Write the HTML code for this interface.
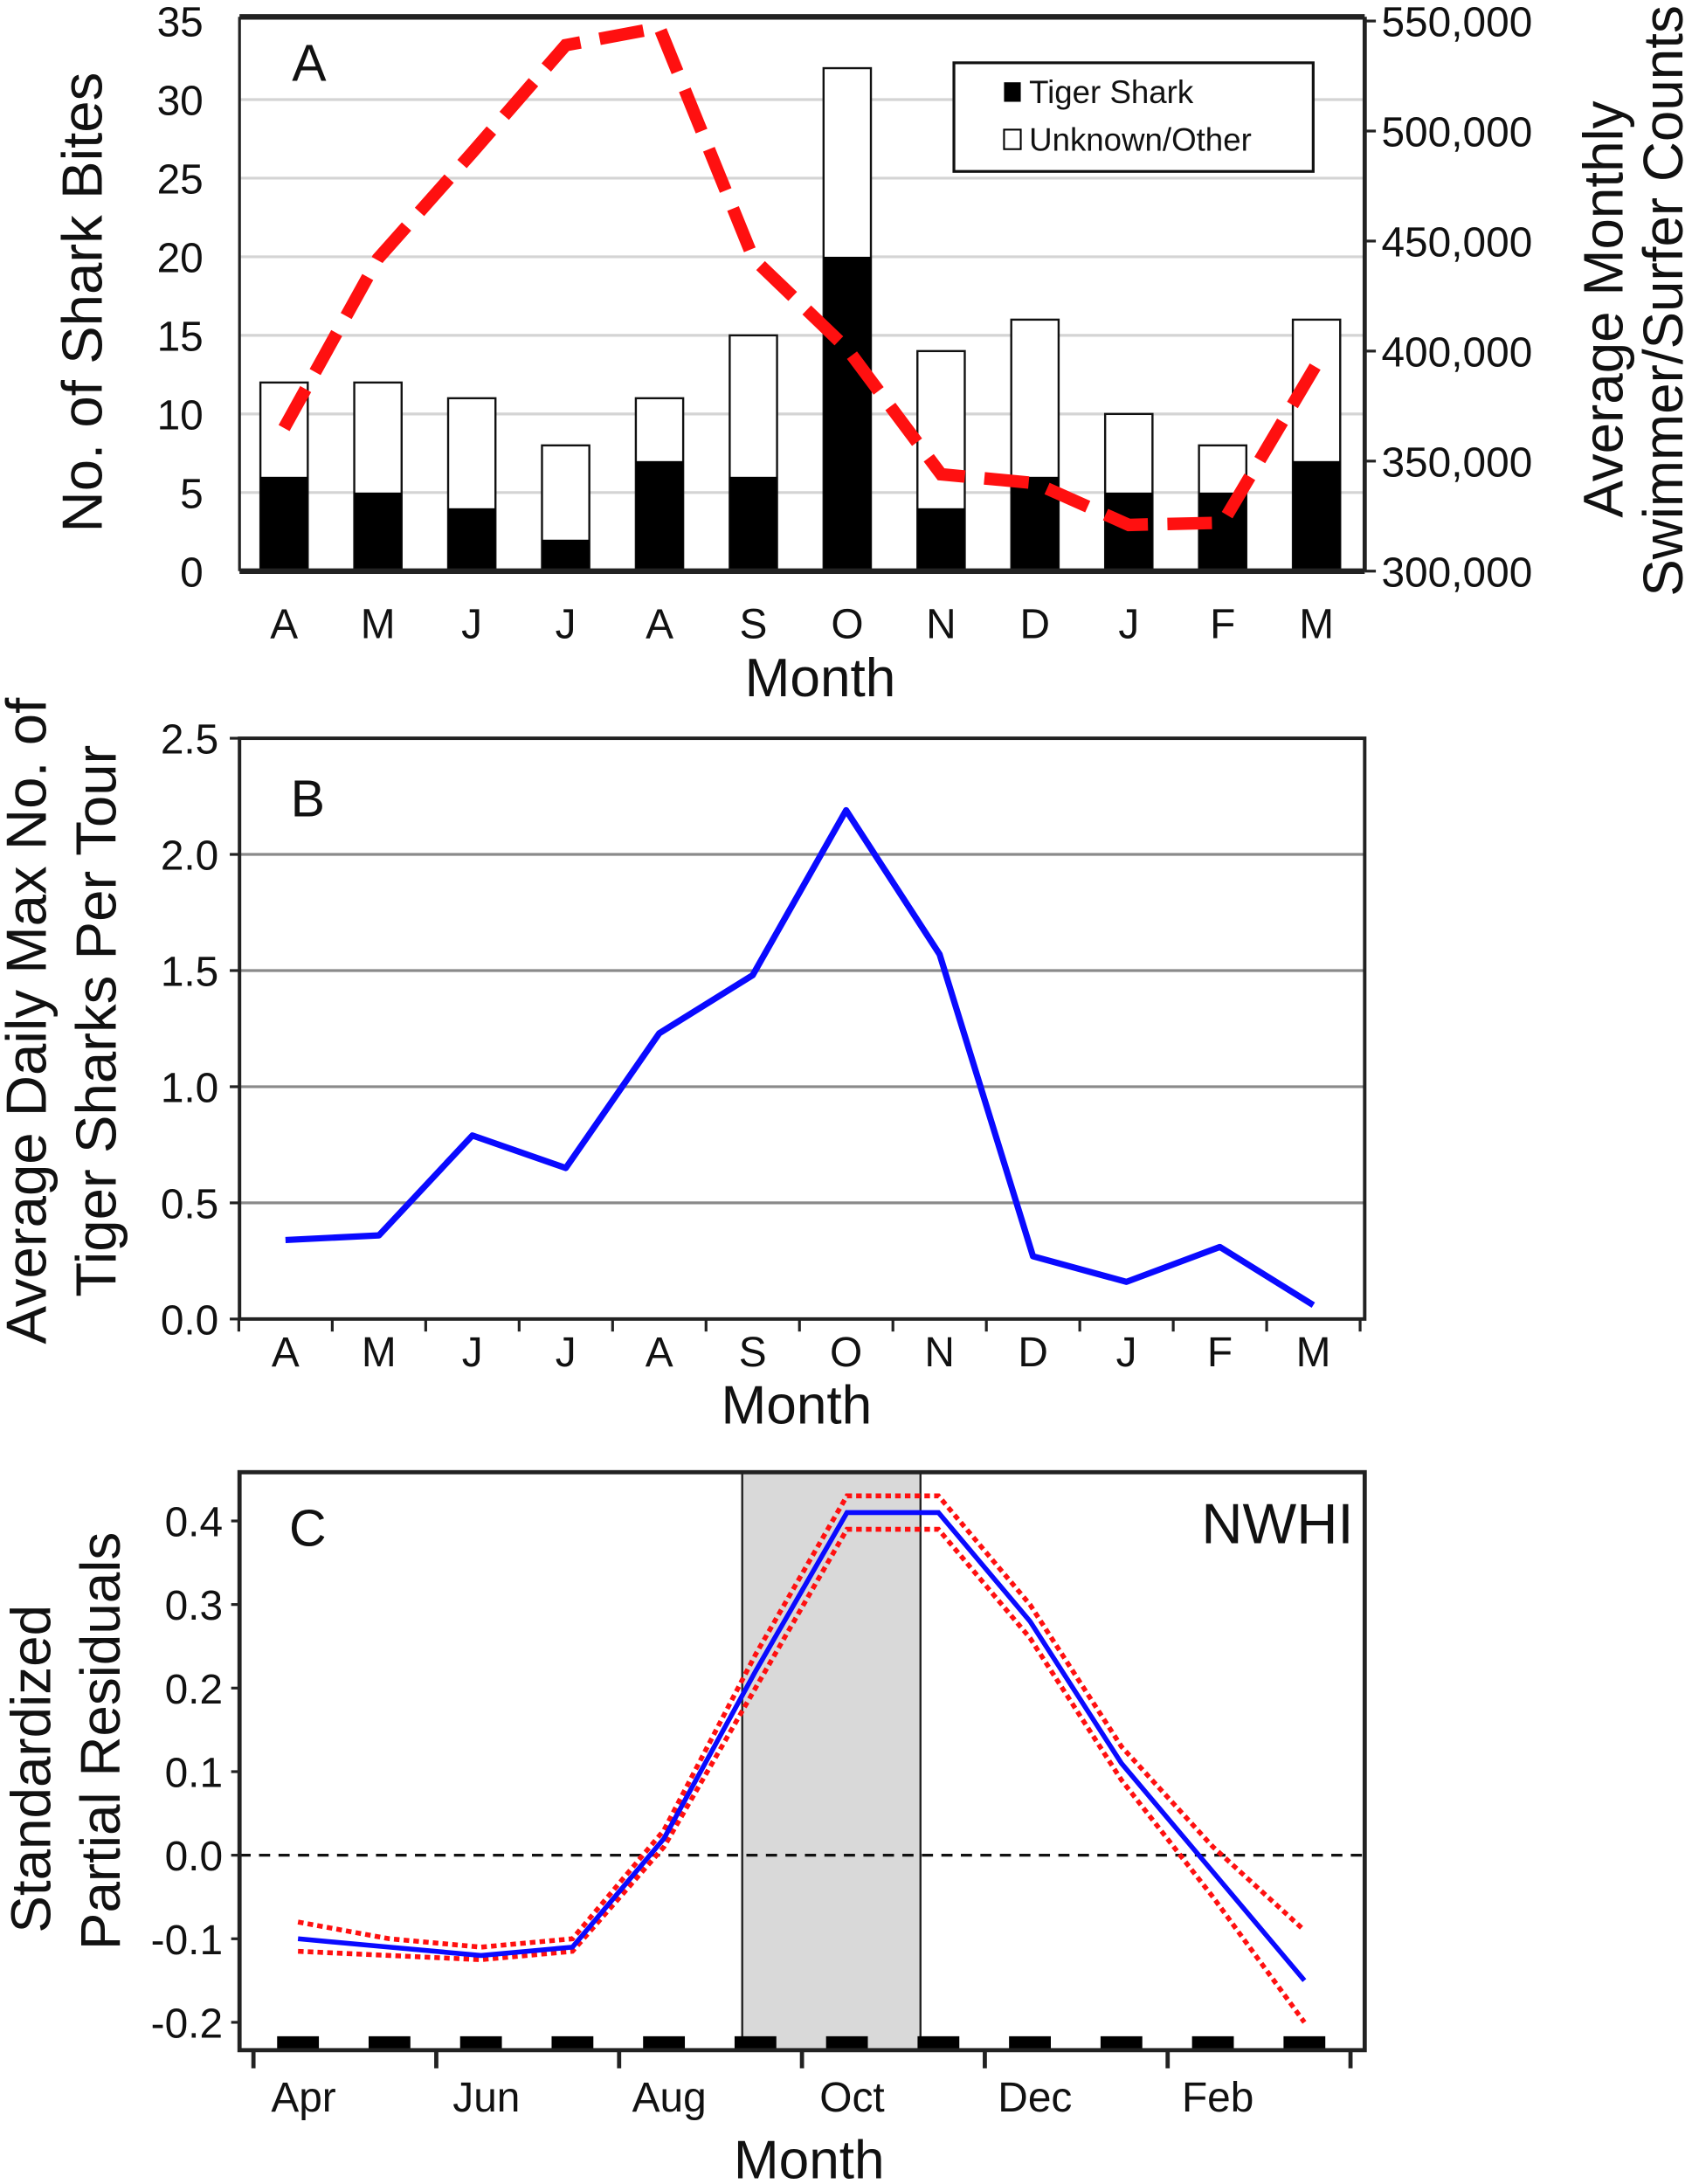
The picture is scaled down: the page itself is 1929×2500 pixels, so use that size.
<!DOCTYPE html>
<html><head><meta charset="utf-8"><style>
html,body{margin:0;padding:0;background:#fff}
svg{display:block}
text{font-family:"Liberation Sans",sans-serif;fill:#111}
</style></head><body>
<svg id="fig" width="1929" height="2500" viewBox="0 0 1210 1568" xmlns="http://www.w3.org/2000/svg">
<g id="pa"></g>
<g id="pb"></g>
<g id="pc"></g>
</svg>
<script>
// Panel A data
const monthsA = ["A","M","J","J","A","S","O","N","D","J","F","M"];
const tigerBites = [6,5,4,2,7,6,20,4,6,5,5,7];
const totalBites = [12,12,11,8,11,15,32,14,16,10,8,16];
const swimmerCounts = [365000,442000,490000,539000,547000,442000,401000,344000,340000,321000,322000,394000];
const leftTicksA = [0,5,10,15,20,25,30,35];
const rightTicksA = [300000,350000,400000,450000,500000,550000];
// Panel B data
const monthsB = ["A","M","J","J","A","S","O","N","D","J","F","M"];
const tigerPerTour = [0.34,0.36,0.79,0.65,1.23,1.48,2.19,1.57,0.27,0.16,0.31,0.06];
const ticksB = [0.0,0.5,1.0,1.5,2.0,2.5];
// Panel C data
const residFit = [-0.10,-0.11,-0.12,-0.11,0.02,0.22,0.41,0.41,0.28,0.11,-0.02,-0.15];
const residUpper = [-0.08,-0.10,-0.11,-0.10,0.03,0.24,0.43,0.43,0.30,0.13,0.01,-0.09];
const residLower = [-0.115,-0.12,-0.125,-0.115,0.01,0.20,0.39,0.39,0.26,0.09,-0.05,-0.20];
const ticksC = [-0.2,-0.1,0.0,0.1,0.2,0.3,0.4];
const monthLabelsC = ["Apr","Jun","Aug","Oct","Dec","Feb"];

const NS="http://www.w3.org/2000/svg";
function mk(parent,tag,attrs,txt){const e=document.createElementNS(NS,tag);for(const k in attrs)e.setAttribute(k,attrs[k]);if(txt!==undefined)e.textContent=txt;parent.appendChild(e);return e;}

// ---------- Panel A ----------
(function(){
const g=document.getElementById('pa');
const L=172,R=980,T=12,B=410;
const yA=v=>B-(v/35)*(B-15);
const yR=v=>B-((v-300000)/250000)*(B-15);
const xA=i=>204+i*67.4;
leftTicksA.forEach(v=>{
  if(v>0&&v<35){const l=mk(g,'line',{x1:L,x2:R,y1:yA(v),y2:yA(v),stroke:'#d4d4d4','stroke-width':2});
  
  }
  const t=mk(g,'text',{x:146,y:yA(v)+11,'text-anchor':'end','font-size':30},v);
  
  
});
rightTicksA.forEach(v=>{
  mk(g,'line',{x1:R,x2:R+8,y1:yR(v),y2:yR(v),stroke:'#222','stroke-width':2});
  const t=mk(g,'text',{x:992,y:yR(v)+11,'font-size':30},v.toLocaleString('en-US'));
  
  
});
tigerBites.forEach((v,i)=>{
  const w=34,x=xA(i)-w/2;
  const o=mk(g,'rect',{x:x,y:yA(totalBites[i]),width:w,height:yA(0)-yA(totalBites[i]),fill:'#fff',stroke:'#111','stroke-width':1.5});
  
  
  const b=mk(g,'rect',{x:x,y:yA(v),width:w,height:yA(0)-yA(v),fill:'#000'});
  
  
  const t=mk(g,'text',{x:xA(i),y:458,'text-anchor':'middle','font-size':30},monthsA[i]);
  
  
});
mk(g,'line',{x1:L,x2:R,y1:T,y2:T,stroke:'#222','stroke-width':4});
mk(g,'line',{x1:L,x2:R,y1:B,y2:B,stroke:'#222','stroke-width':4});
mk(g,'line',{x1:L,x2:L,y1:T,y2:B,stroke:'#222','stroke-width':2});
mk(g,'line',{x1:R,x2:R,y1:T,y2:B,stroke:'#222','stroke-width':3});
const pts=swimmerCounts.map((v,i)=>xA(i)+','+yR(v)).join(' ');
const pl=mk(g,'polyline',{points:pts,fill:'none',stroke:'#ff1010','stroke-width':9,'stroke-dasharray':'32,14'});


const lg=mk(g,'g',{});


mk(lg,'rect',{x:685,y:45,width:258,height:78,fill:'#fff',stroke:'#111','stroke-width':2});
mk(lg,'rect',{x:721,y:59,width:12,height:14,fill:'#000'});
mk(lg,'text',{x:739,y:74,'font-size':23},'Tiger Shark');
mk(lg,'rect',{x:721,y:93,width:12,height:14,fill:'#fff',stroke:'#000','stroke-width':1.3});
mk(lg,'text',{x:739,y:108,'font-size':23},'Unknown/Other');
const lab=mk(g,'text',{x:222,y:58,'text-anchor':'middle','font-size':37},'A');


const xt=mk(g,'text',{x:589,y:500,'text-anchor':'middle','font-size':39},'Month');


const yt=mk(g,'text',{transform:'translate(73,217) rotate(-90)','text-anchor':'middle','font-size':41},'No. of Shark Bites');


const y2=mk(g,'text',{transform:'translate(1165,222) rotate(-90)','text-anchor':'middle','font-size':40},'Average Monthly');


mk(g,'text',{transform:'translate(1208,216) rotate(-90)','text-anchor':'middle','font-size':40},'Swimmer/Surfer Counts');
})();

// ---------- Panel B ----------
(function(){
const g=document.getElementById('pb');
const L=172,R=980,T=530,B=947;
const yB=v=>B-(v/2.5)*(B-T);
const xB=i=>205+i*67.1;
ticksB.forEach(v=>{
  if(v>0&&v<2.5){const l=mk(g,'line',{x1:L,x2:R,y1:yB(v),y2:yB(v),stroke:'#8a8a8a','stroke-width':2});
  
  }
  mk(g,'line',{x1:L-7,x2:L,y1:yB(v),y2:yB(v),stroke:'#222','stroke-width':2});
  const t=mk(g,'text',{x:157,y:yB(v)+11,'text-anchor':'end','font-size':30},v.toFixed(1));
  
  
});
mk(g,'rect',{x:L,y:T,width:R-L,height:B-T,fill:'none',stroke:'#222','stroke-width':2.5});
for(let i=0;i<=12;i++){const x=xB(i)-33.5;mk(g,'line',{x1:x,x2:x,y1:B,y2:B+9,stroke:'#222','stroke-width':2});}
monthsB.forEach((m,i)=>{
  const t=mk(g,'text',{x:xB(i),y:981,'text-anchor':'middle','font-size':30},m);
  
  
});
const pl=mk(g,'polyline',{points:tigerPerTour.map((v,i)=>xB(i)+','+yB(v)).join(' '),fill:'none',stroke:'#0a0aff','stroke-width':4.5,'stroke-linejoin':'round'});


const lab=mk(g,'text',{x:221,y:586,'text-anchor':'middle','font-size':37},'B');


const xt=mk(g,'text',{x:572,y:1022,'text-anchor':'middle','font-size':39},'Month');


const yt=mk(g,'text',{transform:'translate(33,733) rotate(-90)','text-anchor':'middle','font-size':41},'Average Daily Max No. of');


mk(g,'text',{transform:'translate(83,733) rotate(-90)','text-anchor':'middle','font-size':41},'Tiger Sharks Per Tour');
})();

// ---------- Panel C ----------
(function(){
const g=document.getElementById('pc');
const L=172,R=980,T=1057,B=1472;
const yC=v=>1332-v*600;
const xC=i=>214+i*65.7;
const sh=mk(g,'rect',{x:533,y:T,width:128,height:B-T,fill:'#d9d9d9',stroke:'#222','stroke-width':1.5});


const zl=mk(g,'line',{x1:L,x2:R,y1:yC(0),y2:yC(0),stroke:'#111','stroke-width':2,'stroke-dasharray':'8,6'});


ticksC.forEach(v=>{
  mk(g,'line',{x1:L-6,x2:L,y1:yC(v),y2:yC(v),stroke:'#222','stroke-width':2});
  const t=mk(g,'text',{x:160,y:yC(v)+11,'text-anchor':'end','font-size':30},v.toFixed(1));
  
  
});
residFit.forEach((v,i)=>{
  const r=mk(g,'rect',{x:xC(i)-15,y:1462,width:30,height:10,fill:'#000'});
  
  
});
mk(g,'rect',{x:L,y:T,width:R-L,height:B-T,fill:'none',stroke:'#222','stroke-width':3});
for(let i=0;i<7;i++){const x=182+i*131.3;mk(g,'line',{x1:x,x2:x,y1:B,y2:B+13,stroke:'#222','stroke-width':3});}
monthLabelsC.forEach((m,i)=>{
  const t=mk(g,'text',{x:218+i*131.3,y:1516,'text-anchor':'middle','font-size':30},m);
  
  
});
const pts=a=>a.map((v,i)=>xC(i)+','+yC(v)).join(' ');
const up=mk(g,'polyline',{points:pts(residUpper),fill:'none',stroke:'#ff1010','stroke-width':3.5,'stroke-dasharray':'4,3'});


const lo=mk(g,'polyline',{points:pts(residLower),fill:'none',stroke:'#ff1010','stroke-width':3.5,'stroke-dasharray':'4,3'});


const fit=mk(g,'polyline',{points:pts(residFit),fill:'none',stroke:'#0a0aff','stroke-width':3.5});


const lab=mk(g,'text',{x:221,y:1110,'text-anchor':'middle','font-size':37},'C');


const nw=mk(g,'text',{x:972,y:1108,'text-anchor':'end','font-size':41},'NWHI');


const xt=mk(g,'text',{x:581,y:1564,'text-anchor':'middle','font-size':39},'Month');


const yt=mk(g,'text',{transform:'translate(36,1270) rotate(-90)','text-anchor':'middle','font-size':40},'Standardized');


mk(g,'text',{transform:'translate(86,1250) rotate(-90)','text-anchor':'middle','font-size':40},'Partial Residuals');
})();
</script>
</body></html>
